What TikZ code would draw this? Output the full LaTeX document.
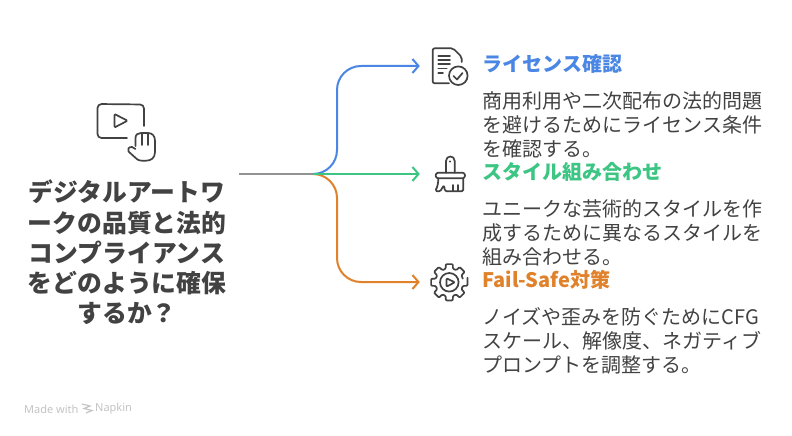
\documentclass[tikz,border=0pt]{standalone}
\usepackage{fontspec}
\usepackage{xcolor}
\setmainfont{Noto Sans CJK JP}
\setsansfont{Noto Sans}
\usetikzlibrary{positioning,calc,arrows.meta}
\definecolor{NoteBlue}{HTML}{4A86E4}
\definecolor{NoteGreen}{HTML}{3CC583}
\definecolor{NoteOrange}{HTML}{E0812B}
\definecolor{NoteGray}{HTML}{929292}
\definecolor{NoteText}{HTML}{424242}
\definecolor{NoteFaint}{HTML}{C4C4C4}

\begin{document}
\begin{tikzpicture}[
    x=1pt, y=-1pt,
    title/.style={inner sep=0pt, align=center, text=NoteText, font=\fontsize{24.8}{30.2}\selectfont\bfseries},
    head/.style={inner sep=0pt, font=\fontsize{20}{24}\selectfont\bfseries},
    body/.style={inner sep=0pt, align=left, text=NoteText, font=\fontsize{20}{24}\selectfont},
    iconbox/.style={inner sep=0pt, minimum size=60pt},
    icon/.style={draw=NoteText, line width=1.7pt, line cap=round, line join=round},
    arrow/.style={line width=2pt, rounded corners=24pt, -{Straight Barb[length=6pt,width=14pt]}},
    faint/.style={inner sep=0pt, text=NoteFaint, font=\sffamily\fontsize{11}{13}\selectfont}
  ]
    \useasboundingbox (0,0) rectangle (792,436);
    \fill[white] (0,0) rectangle (792,436);

    \node[title] (goal) at (127,252.5) {デジタルアートワ\\ークの品質と法的\\コンプライアンス\\をどのように確保\\するか？};
    \coordinate (start) at (239,174);
    \coordinate (hub) at (313,174);

    \node[iconbox] (licIcon) at (450,66) {};
    \node[iconbox] (mixIcon) at (450,174) {};
    \node[iconbox] (safeIcon) at (450,282) {};

    \node[head, text=NoteBlue, anchor=west, right=2pt of licIcon, yshift=2.5pt] (licHead) {ライセンス確認};
    \node[body, below=18pt of licHead.south west, anchor=north west] (licBody) {商用利用や二次配布の法的問題\\を避けるためにライセンス条件\\を確認する。};
    \node[head, text=NoteGreen, anchor=west, right=2pt of mixIcon, yshift=2.5pt] (mixHead) {スタイル組み合わせ};
    \node[body, below=18pt of mixHead.south west, anchor=north west] (mixBody) {ユニークな芸術的スタイルを作\\成するために異なるスタイルを\\組み合わせる。};
    \node[head, text=NoteOrange, anchor=west, right=2pt of safeIcon, yshift=2.5pt] (safeHead) {Fail-Safe対策};
    \node[body, below=18pt of safeHead.south west, anchor=north west] (safeBody) {ノイズや歪みを防ぐためにCFG\\スケール、解像度、ネガティブ\\プロンプトを調整する。};

    \draw[line width=2pt, NoteGray] (start) -- (hub);
    \draw[arrow, NoteOrange] (hub) -- ([xshift=24pt]hub) |- (safeIcon.west);
    \draw[arrow, NoteBlue] (hub) -- ([xshift=24pt]hub) |- (licIcon.west);
    \draw[arrow, NoteGreen] (hub) -- (mixIcon.west);

    % video and hand
    \draw[icon, rounded corners=4pt] (144,126) -- (144,104.5) -- (97.5,104) -- (97.5,138) -- (127,138);
    \draw[icon, rounded corners=1pt] (114.5,114) -- (127.5,120.7) -- (114.5,127.5) -- cycle;
    \draw[icon] (135.5,146) -- (135.5,138) .. controls (135.5,134.5) and (138,133) .. (141,133) -- (148,133)
      .. controls (152.5,133) and (155,136) .. (155,141) -- (155,152) .. controls (155,158) and (151,160.7) .. (146,160.7)
      -- (142,160.7) .. controls (138,160.7) and (136,158.5) .. (134,156.5) -- (128.5,151.5)
      .. controls (127,149.5) and (129,146.5) .. (132,147) -- (135.5,149);
    \draw[icon] (141.7,134) -- (141.7,145) (148.3,134) -- (148.3,145);

    % document
    \draw[icon, rounded corners=2pt] (449,83.3) -- (432.7,83.3) -- (432.7,48.3) -- (453,48.3) -- (461.7,57) -- (461.7,62);
    \draw[icon] (438.3,55.7) -- (450,55.7) (438.3,60) -- (450,60) (438.3,64.3) -- (450,64.3)
      (438.3,68.5) -- (446.7,68.5) (438.3,73) -- (443,73);
    \draw[icon] (458.3,75.7) circle (9.3);
    \draw[icon] (453.5,76) -- (457,79.5) -- (462.5,73);

    % brush
    \draw[icon] (446,172.7) -- (446,161) .. controls (446,155) and (454.7,155) .. (454.7,161) -- (454.7,172.7);
    \fill[NoteText] (450,161.5) circle (1.1);
    \draw[icon, rounded corners=2.5pt] (438,178.3) -- (435.7,178.3) -- (435.7,172.7) -- (465,172.7) -- (465,178.3) -- (438,178.3);
    \draw[icon, rounded corners=1.5pt] (438.3,178.3) .. controls (438.3,184) and (437,188) .. (435,190.7) -- (440,191.7) -- (444,185) -- (445,191.3) -- (463.3,191.3) -- (463.3,178.3);
    \draw[icon] (453.3,185) -- (453.3,191) (458.3,185) -- (458.3,191);

    % gear
    \begin{scope}[shift={(449.3,282.3)}]
      \draw[icon, rounded corners=1pt] (-11:18.5) \foreach \a in {0,45,...,315} {
          -- (\a-11:18.5) -- (\a+11:18.5) -- (\a+15:14) -- (\a+30:14) };
      \draw[icon] (0,0) circle (9.3);
      \draw[icon, rounded corners=1pt] (-2.8,-4) -- (5.5,0) -- (-2.8,4.4) -- cycle;
    \end{scope}

    % footer
    \node[faint, anchor=west] (made) at (24,409) {Made with};
    \node[faint, anchor=west] (brand) at (95,409) {Napkin};
    \draw[NoteFaint, line width=1.2pt] (82,404) -- (90,406) -- (84,408.5) -- (92,410.5) -- (86,413);
  \end{tikzpicture}
\end{document}
